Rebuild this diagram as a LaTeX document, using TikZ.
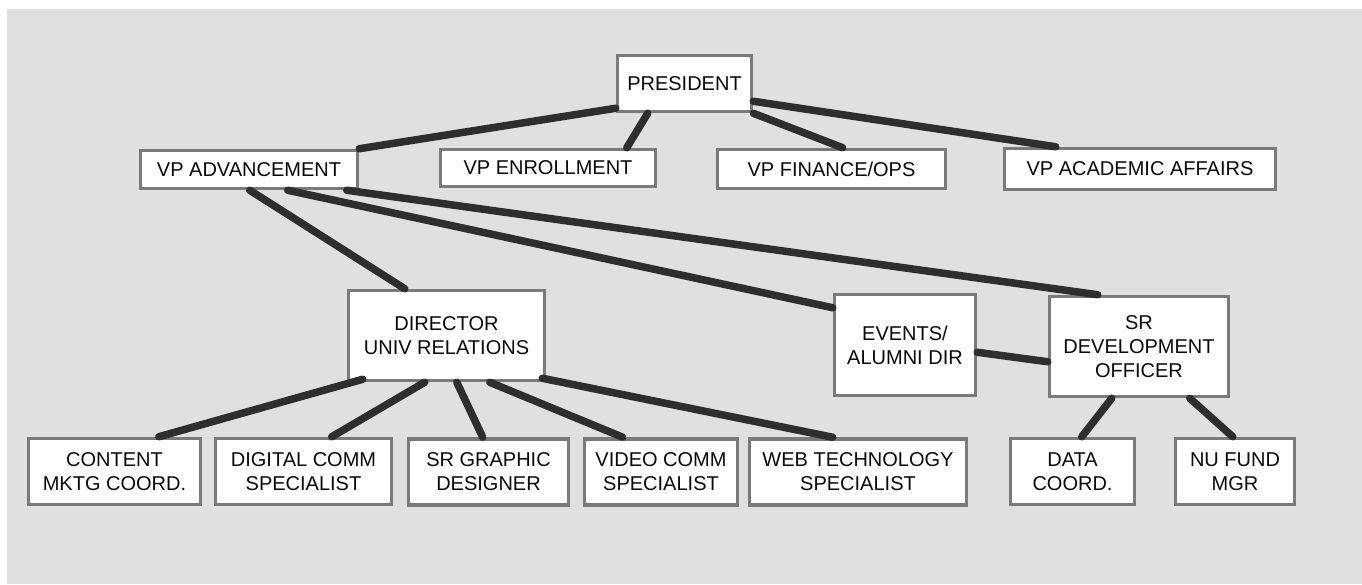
\documentclass[tikz,border=0pt]{standalone}
\usepackage{fontspec}
\setmainfont{Liberation Sans}
\definecolor{panel}{HTML}{E0E0E0}
\definecolor{boxline}{HTML}{7A7A7A}
\definecolor{linkline}{HTML}{2E2E2E}
\definecolor{ink}{HTML}{0A0A0A}
\begin{document}
\begin{tikzpicture}[x=1pt,y=-1pt,
  box/.style={draw=boxline, line width=3.5pt, fill=white, align=center,
    inner sep=0pt, text=ink,
    font=\fontsize{20}{24}\selectfont},
  link/.style={draw=linkline, line width=7.5pt, line cap=round}]
% page and panel
\useasboundingbox (0,0) rectangle (1362,584);
\fill[white] (0,0) rectangle (1362,584);
\fill[panel] (7,9) rectangle (1362,584);

% top
\node[box, minimum width=134pt, minimum height=56pt] (pres) at (684.5,83.5) {PRESIDENT};

% vice presidents
\node[box, minimum width=217pt, minimum height=38pt] (vpa)  at (249,169.5) {VP ADVANCEMENT};
\node[box, minimum width=215pt, minimum height=37pt] (vpe)  at (548,168) {VP ENROLLMENT};
\node[box, minimum width=228pt, minimum height=39pt] (vpf)  at (831.5,169) {VP FINANCE/OPS};
\node[box, minimum width=271pt, minimum height=41pt] (vpaa) at (1140,169) {VP ACADEMIC AFFAIRS};

% directors
\node[box, minimum width=196pt, minimum height=90pt] (dir) at (446.5,335.5) {DIRECTOR\\UNIV RELATIONS};
\node[box, minimum width=141pt, minimum height=101pt] (evt) at (905,345) {EVENTS/\\ALUMNI DIR};
\node[box, minimum width=179pt, minimum height=100pt] (srd) at (1139,346.5) {SR\\DEVELOPMENT\\OFFICER};

% staff
\node[box, minimum width=172pt, minimum height=66pt] (cont) at (114.5,471.5) {CONTENT\\MKTG COORD.};
\node[box, minimum width=176pt, minimum height=66pt] (dig)  at (303.5,471.5) {DIGITAL COMM\\SPECIALIST};
\node[box, minimum width=160pt, minimum height=66pt] (gra)  at (488.5,472) {SR GRAPHIC\\DESIGNER};
\node[box, minimum width=153pt, minimum height=66pt] (vid)  at (661,472) {VIDEO COMM\\SPECIALIST};
\node[box, minimum width=217pt, minimum height=66pt] (web)  at (858,472) {WEB TECHNOLOGY\\SPECIALIST};
\node[box, minimum width=124pt, minimum height=66pt] (data) at (1072.5,471.5) {DATA\\COORD.};
\node[box, minimum width=119pt, minimum height=66pt] (nu)   at (1235,471.5) {NU FUND\\MGR};

% reporting lines (shifts in pt: positive yshift points up)
\draw[link] ([yshift=5pt]pres.south west) -- (vpa.north east);
\draw[link] ([xshift=32pt]pres.south west) -- ([xshift=188pt]vpe.north west);
\draw[link] (pres.south east) -- ([xshift=127pt]vpf.north west);
\draw[link] ([yshift=12pt]pres.south east) -- ([xshift=53pt]vpaa.north west);

\draw[link] ([xshift=111pt]vpa.south west) -- ([xshift=58pt]dir.north west);
\draw[link] ([xshift=149pt]vpa.south west) -- ([yshift=-15pt]evt.north west);
\draw[link] ([xshift=208pt]vpa.south west) -- ([xshift=50pt]srd.north west);
\draw[link] ([yshift=45pt]evt.south east) -- ([yshift=-67pt]srd.north west);

\draw[link] ([shift={(16pt,3pt)}]dir.south west) -- ([xshift=132pt]cont.north west);
\draw[link] ([xshift=78pt]dir.south west) -- ([xshift=118pt]dig.north west);
\draw[link] ([xshift=110pt]dir.south west) -- ([xshift=76pt]gra.north west);
\draw[link] ([xshift=143pt]dir.south west) -- ([xshift=40pt]vid.north west);
\draw[link] ([shift={(-4pt,4pt)}]dir.south east) -- ([xshift=85pt]web.north west);

\draw[link] ([xshift=64pt]srd.south west) -- ([xshift=73pt]data.north west);
\draw[link] ([xshift=142pt]srd.south west) -- ([xshift=59pt]nu.north west);
\end{tikzpicture}
\end{document}
